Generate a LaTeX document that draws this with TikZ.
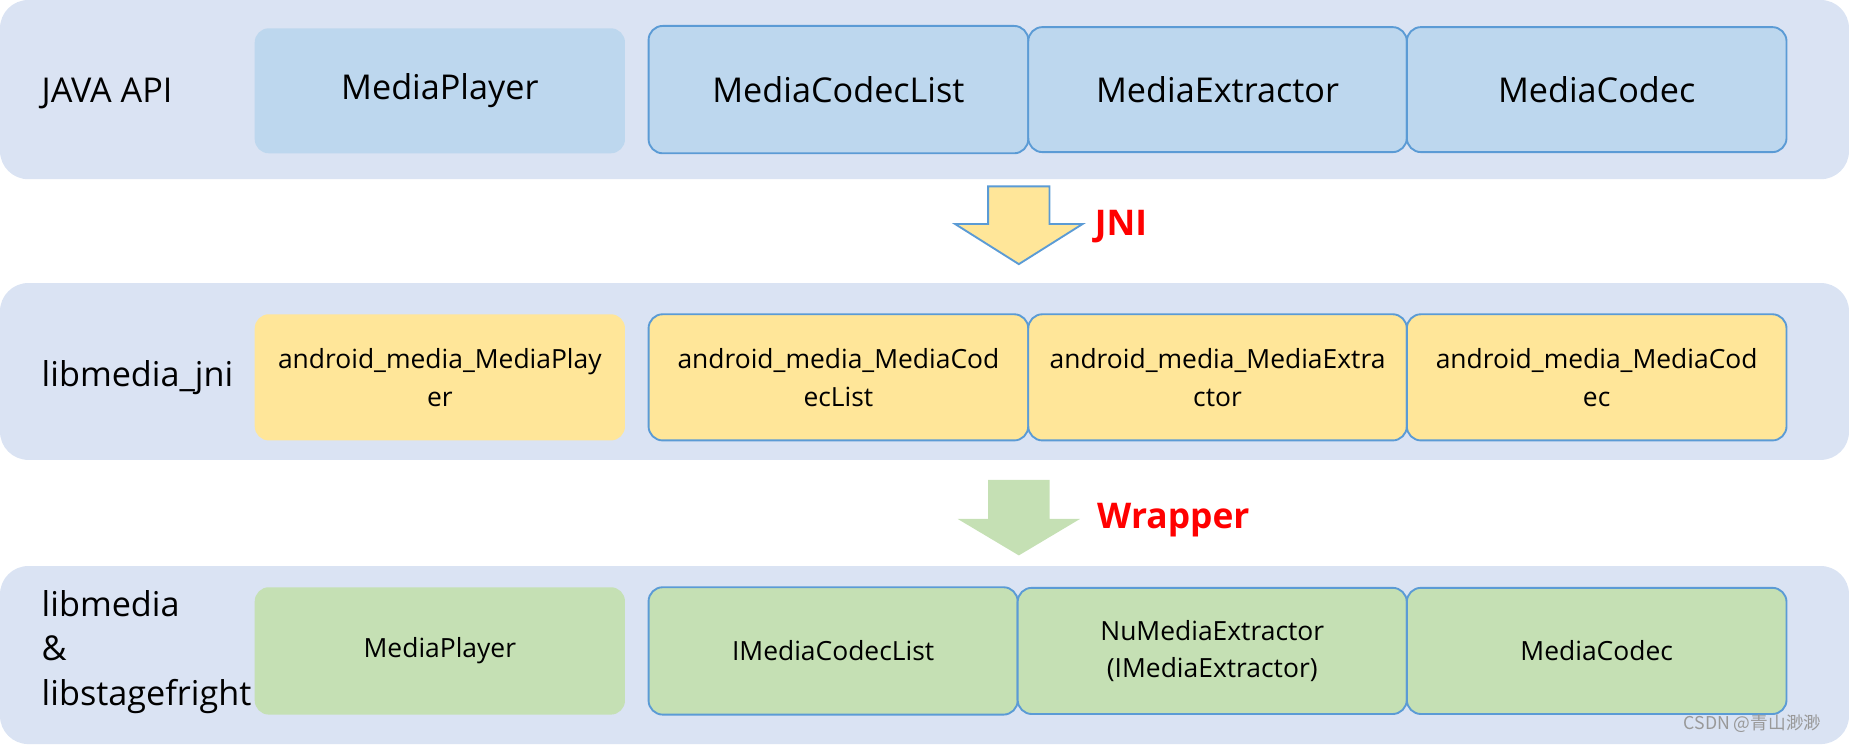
\documentclass[tikz,border=0pt]{standalone}
\usepackage{fontspec}
\setmainfont{Open Sans}
\newfontfamily\cjkfont{Noto Sans CJK SC}
\usetikzlibrary{positioning}

\definecolor{bandbg}{HTML}{DAE3F3}
\definecolor{apiblue}{HTML}{BDD7EE}
\definecolor{jniyellow}{HTML}{FFE699}
\definecolor{libgreen}{HTML}{C5E0B4}
\definecolor{edgeblue}{HTML}{5B9BD5}

\tikzset{
  band/.style={fill=bandbg, rounded corners=12pt, minimum width=784pt, inner sep=0pt},
  layername/.style={anchor=west, align=left, inner sep=0pt, font=\fontsize{14.5}{18.8}\selectfont},
  module/.style={rounded corners=6pt, inner sep=0pt, outer sep=0pt, align=center, anchor=west},
  framed/.style={module, draw=edgeblue, line width=0.8pt},
  bigtext/.style={font=\fontsize{14.5}{18}\selectfont},
  smalltext/.style={font=\fontsize{11.2}{16}\selectfont},
  redtag/.style={anchor=west, inner sep=0pt, text=red, font=\fontsize{15}{18}\selectfont\bfseries}
}

\begin{document}
\begin{tikzpicture}[x=0.5pt, y=-0.5pt]
    \useasboundingbox (0,0) rectangle (1568,631);

    % Bands
    \node[band, minimum height=76pt] (apiband) at (784,76) {};
    \node[band, minimum height=75pt] (jniband) at (784,315) {};
    \node[band, minimum height=75.5pt] (libband) at (784,555.5) {};

    % Layer names
    \node[layername] (apiname) at (35,79) {JAVA API};
    \node[layername] (jniname) at (35,320) {libmedia\_jni};
    \node[layername] (libname) at (35,553) {libmedia\\\&\\libstagefright};

    % JAVA API row
    \node[module, bigtext, fill=apiblue, minimum width=157pt, minimum height=53pt] (apiplayer) at (216,77) {MediaPlayer};
    \node[framed, bigtext, fill=apiblue, minimum width=161pt, minimum height=54pt] (apilist) at (550,76) {MediaCodecList};
    \node[framed, bigtext, fill=apiblue, minimum width=160.5pt, minimum height=53pt, right=0pt of apilist] (apiextractor) {MediaExtractor};
    \node[framed, bigtext, fill=apiblue, minimum width=161pt, minimum height=53pt, right=0pt of apiextractor] (apicodec) {MediaCodec};

    % JNI row
    \node[module, smalltext, fill=jniyellow, minimum width=157pt, minimum height=53.5pt] (jniplayer) at (216,320) {android\_media\_MediaPlay\\er};
    \node[framed, smalltext, fill=jniyellow, minimum width=161pt, minimum height=53.5pt] (jnilist) at (550,320) {android\_media\_MediaCod\\ecList};
    \node[framed, smalltext, fill=jniyellow, minimum width=160.5pt, minimum height=53.5pt, right=0pt of jnilist] (jniextractor) {android\_media\_MediaExtra\\ctor};
    \node[framed, smalltext, fill=jniyellow, minimum width=161pt, minimum height=53.5pt, right=0pt of jniextractor] (jnicodec) {android\_media\_MediaCod\\ec};

    % native row
    \node[module, smalltext, fill=libgreen, minimum width=157pt, minimum height=54pt] (libplayer) at (216,552) {MediaPlayer};
    \node[framed, smalltext, fill=libgreen, minimum width=156.5pt, minimum height=54pt] (liblist) at (550,552) {IMediaCodecList};
    \node[framed, smalltext, fill=libgreen, minimum width=165pt, minimum height=53.5pt, right=0pt of liblist] (libextractor) {NuMediaExtractor\\(IMediaExtractor)};
    \node[framed, smalltext, fill=libgreen, minimum width=161pt, minimum height=53.5pt, right=0pt of libextractor] (libcodec) {MediaCodec};

    % Block arrows between the bands
    \coordinate (jnitop) at (864,158);
    \coordinate (wraptop) at (864,407);
    \draw[edgeblue, fill=jniyellow, line width=0.8pt] (jnitop) ++(-26,0) -- ++(0,32) -- ++(-28,0) -- ++(54,34) -- ++(54,-34) -- ++(-28,0) -- ++(0,-32) -- cycle;
    \fill[libgreen] (wraptop) ++(-26,0) -- ++(0,33) -- ++(-26,0) -- ++(52,31) -- ++(52,-31) -- ++(-26,0) -- ++(0,-33) -- cycle;

    % Labels
    \node[redtag] (jnitag) at (928,192) {JNI};
    \node[redtag] (wraptag) at (930,441) {Wrapper};
    \node[anchor=east, inner sep=0pt, text=black!40, font=\cjkfont\fontsize{7.5}{9}\selectfont] (mark) at (1545,614) {CSDN @青山渺渺};
\end{tikzpicture}
\end{document}
